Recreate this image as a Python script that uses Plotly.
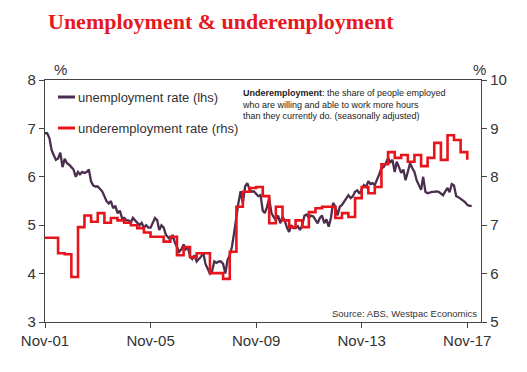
import pandas as pd
import plotly.graph_objects as go

# ---- data -------------------------------------------------------------
unemp_start = "2001-11-01"
unemployment = [
    6.9, 6.9,
    6.8, 6.55, 6.45, 6.35, 6.38, 6.5, 6.2, 6.37, 6.28, 6.25, 6.2, 6.15,
    6.0, 6.1, 6.05, 6.1, 6.08, 6.1, 6.15, 5.9, 5.82, 5.8, 5.8, 5.75,
    5.7, 5.6, 5.5, 5.45, 5.5, 5.35, 5.4, 5.25, 5.3, 5.15, 5.15, 5.1,
    5.1, 5.05, 5.15, 5.1, 5.05, 5.0, 5.05, 4.95, 5.0, 4.95, 4.95, 5.05,
    5.15, 5.1, 4.9, 5.0, 4.95, 4.8, 4.75, 4.7, 4.8, 4.65, 4.55, 4.45,
    4.5, 4.6, 4.5, 4.55, 4.35, 4.3, 4.38, 4.25, 4.3, 4.35, 4.43, 4.2,
    4.1, 4.0, 4.05, 4.25, 4.22, 4.25, 4.25, 4.2, 4.0, 4.28, 4.38, 4.55,
    4.85, 5.2, 5.46, 5.7, 5.45, 5.8, 5.87, 5.75, 5.69, 5.7, 5.65, 5.6,
    5.62, 5.3, 5.25, 5.38, 5.56, 5.25, 5.17, 5.1, 5.2, 5.04, 5.17, 5.1,
    4.95, 4.86, 5.0, 4.94, 4.94, 4.98, 4.9, 5.0, 5.2, 5.22, 5.15, 5.2,
    5.18, 5.1, 5.04, 5.15, 5.2, 5.04, 5.12, 4.97, 5.15, 5.46, 5.38, 5.2,
    5.38, 5.42, 5.48, 5.55, 5.62, 5.56, 5.6, 5.69, 5.72, 5.65, 5.75, 5.83,
    5.79, 5.91, 5.85, 5.87, 5.83, 5.93, 6.05, 6.18, 6.2, 6.28, 6.39, 6.3,
    6.35, 6.1, 6.31, 6.2, 6.08, 6.15, 5.93, 6.1, 6.28, 6.18, 6.1, 5.93,
    5.83, 5.73, 6.0, 5.69, 5.66, 5.68, 5.69, 5.69, 5.7, 5.69, 5.66, 5.62,
    5.7, 5.77, 5.68, 5.85, 5.82, 5.6, 5.58, 5.55, 5.52, 5.48, 5.42, 5.4,
    5.4,
]

under_start = "2001-11-01"
underemployment = [
    6.74, 6.74, 6.42, 6.40, 5.93, 6.96, 7.20, 7.07, 7.25, 7.05,
    7.15, 7.10, 7.05, 7.00, 6.94, 6.85, 6.76, 6.76, 6.66, 6.76,
    6.38, 6.55, 6.34, 6.42, 6.42, 6.01, 6.01, 5.89, 6.45, 7.38,
    7.69, 7.77, 7.79, 7.60, 7.04, 7.38, 7.10, 6.96, 7.10, 6.96,
    7.27, 7.35, 7.38, 7.38, 7.15, 7.25, 7.17, 7.56, 7.79, 7.66,
    7.79, 8.26, 8.51, 8.39, 8.45, 8.31, 8.45, 8.22, 8.39, 8.70,
    8.35, 8.86, 8.76, 8.51, 8.35,
]

tick_dates = ["2001-11-01", "2005-11-01", "2009-11-01", "2013-11-01", "2017-11-01"]
tick_labels = ["Nov-01", "Nov-05", "Nov-09", "Nov-13", "Nov-17"]
lhs_ticks = [3, 4, 5, 6, 7, 8]
rhs_ticks = [5, 6, 7, 8, 9, 10]

series_names = ["unemployment rate (lhs)", "underemployment rate (rhs)"]
title_text = "Unemployment & underemployment"
note_text = ("<b>Underemployment</b>: the share of people employed<br>"
             "who are willing and able to work more hours<br>"
             "than they currently do. (seasonally adjusted)")
source_text = "Source: ABS, Westpac Economics"

# ---- figure -----------------------------------------------------------
PURPLE = "#4b2d4d"
RED = "#e8141c"
AXIS = "#444444"
TXT = "#333333"
FONT = "Liberation Sans, Arial, sans-serif"

u_dates = pd.date_range(unemp_start, periods=len(unemployment), freq="MS")
r_dates = pd.date_range(under_start, periods=len(underemployment), freq="3MS")

fig = go.Figure()
fig.add_trace(go.Scatter(x=u_dates, y=unemployment, mode="lines",
                         name=series_names[0], yaxis="y",
                         line=dict(color=PURPLE, width=2.3),
                         showlegend=False))
fig.add_trace(go.Scatter(x=r_dates, y=underemployment, mode="lines",
                         name=series_names[1], yaxis="y2",
                         line=dict(color=RED, width=2.6, shape="hv"),
                         showlegend=False))

# page body has an 8px margin: the figure starts at screen (8, 8)
OFF = 8
W, H = 527 - OFF, 372 - OFF
# plot area on screen: x 45..481, y 80..322
SL, SR, ST, SB = 45, 481, 80, 322
L, T = SL - OFF, ST - OFF
pw, ph = SR - SL, SB - ST
R, B = W - L - pw, H - T - ph


def px(xs):
    return (xs - SL) / pw


def py(ys):
    return (SB - ys) / ph


fig.update_layout(
    width=W, height=H, autosize=False,
    margin=dict(l=L, r=R, t=T, b=B, pad=0),
    paper_bgcolor="white", plot_bgcolor="white",
    font=dict(family=FONT, color=TXT, size=15),
    showlegend=False,
    xaxis=dict(type="date", range=["2001-11-01", "2018-05-10"],
               tickvals=tick_dates, ticktext=tick_labels,
               ticks="outside", ticklen=5, tickcolor=AXIS, tickwidth=1,
               showline=True, linecolor=AXIS, linewidth=1.3, mirror=True,
               showgrid=False, zeroline=False,
               tickfont=dict(size=15, color=TXT)),
    yaxis=dict(range=[3, 8], tickvals=lhs_ticks,
               ticks="outside", ticklen=5, tickcolor=AXIS,
               showline=True, linecolor=AXIS, linewidth=1.3,
               showgrid=False, zeroline=False,
               tickfont=dict(size=15, color=TXT)),
    yaxis2=dict(range=[5, 10], tickvals=rhs_ticks, overlaying="y", side="right",
                ticks="outside", ticklen=5, tickcolor=AXIS,
                showline=True, linecolor=AXIS, linewidth=1.3,
                showgrid=False, zeroline=False,
                tickfont=dict(size=15, color=TXT)),
)

# title
fig.add_annotation(text="<b>" + title_text + "</b>", xref="paper", yref="paper",
                   x=px(46), y=py(22), xanchor="left", yanchor="middle",
                   showarrow=False,
                   font=dict(family="Liberation Serif, Times New Roman, serif",
                             size=22, color="#e5191f"))

# manual legend (short swatches like the original)
legend_rows = [(series_names[0], PURPLE, 97), (series_names[1], RED, 128)]
for name, col, ys in legend_rows:
    fig.add_shape(type="line", xref="paper", yref="paper",
                  x0=px(58), x1=px(75), y0=py(ys), y1=py(ys),
                  line=dict(color=col, width=3))
    fig.add_annotation(text=name, xref="paper", yref="paper",
                       x=px(76), y=py(ys), xanchor="left", yanchor="middle",
                       showarrow=False, font=dict(size=13, color=TXT))

fig.add_annotation(text="%", xref="paper", yref="paper", x=px(60), y=py(70),
                   xanchor="center", yanchor="middle", showarrow=False,
                   font=dict(size=15, color=TXT))
fig.add_annotation(text="%", xref="paper", yref="paper", x=px(479), y=py(70),
                   xanchor="center", yanchor="middle", showarrow=False,
                   font=dict(size=15, color=TXT))
fig.add_annotation(text=note_text, xref="paper", yref="paper",
                   x=px(240), y=py(86), xanchor="left", yanchor="top",
                   align="left", showarrow=False,
                   font=dict(size=9, color="#222222"))
fig.add_annotation(text=source_text, xref="paper", yref="paper",
                   x=px(479), y=py(313), xanchor="right", yanchor="middle",
                   showarrow=False, font=dict(size=9.5, color=TXT))

fig.write_html("out.html")
